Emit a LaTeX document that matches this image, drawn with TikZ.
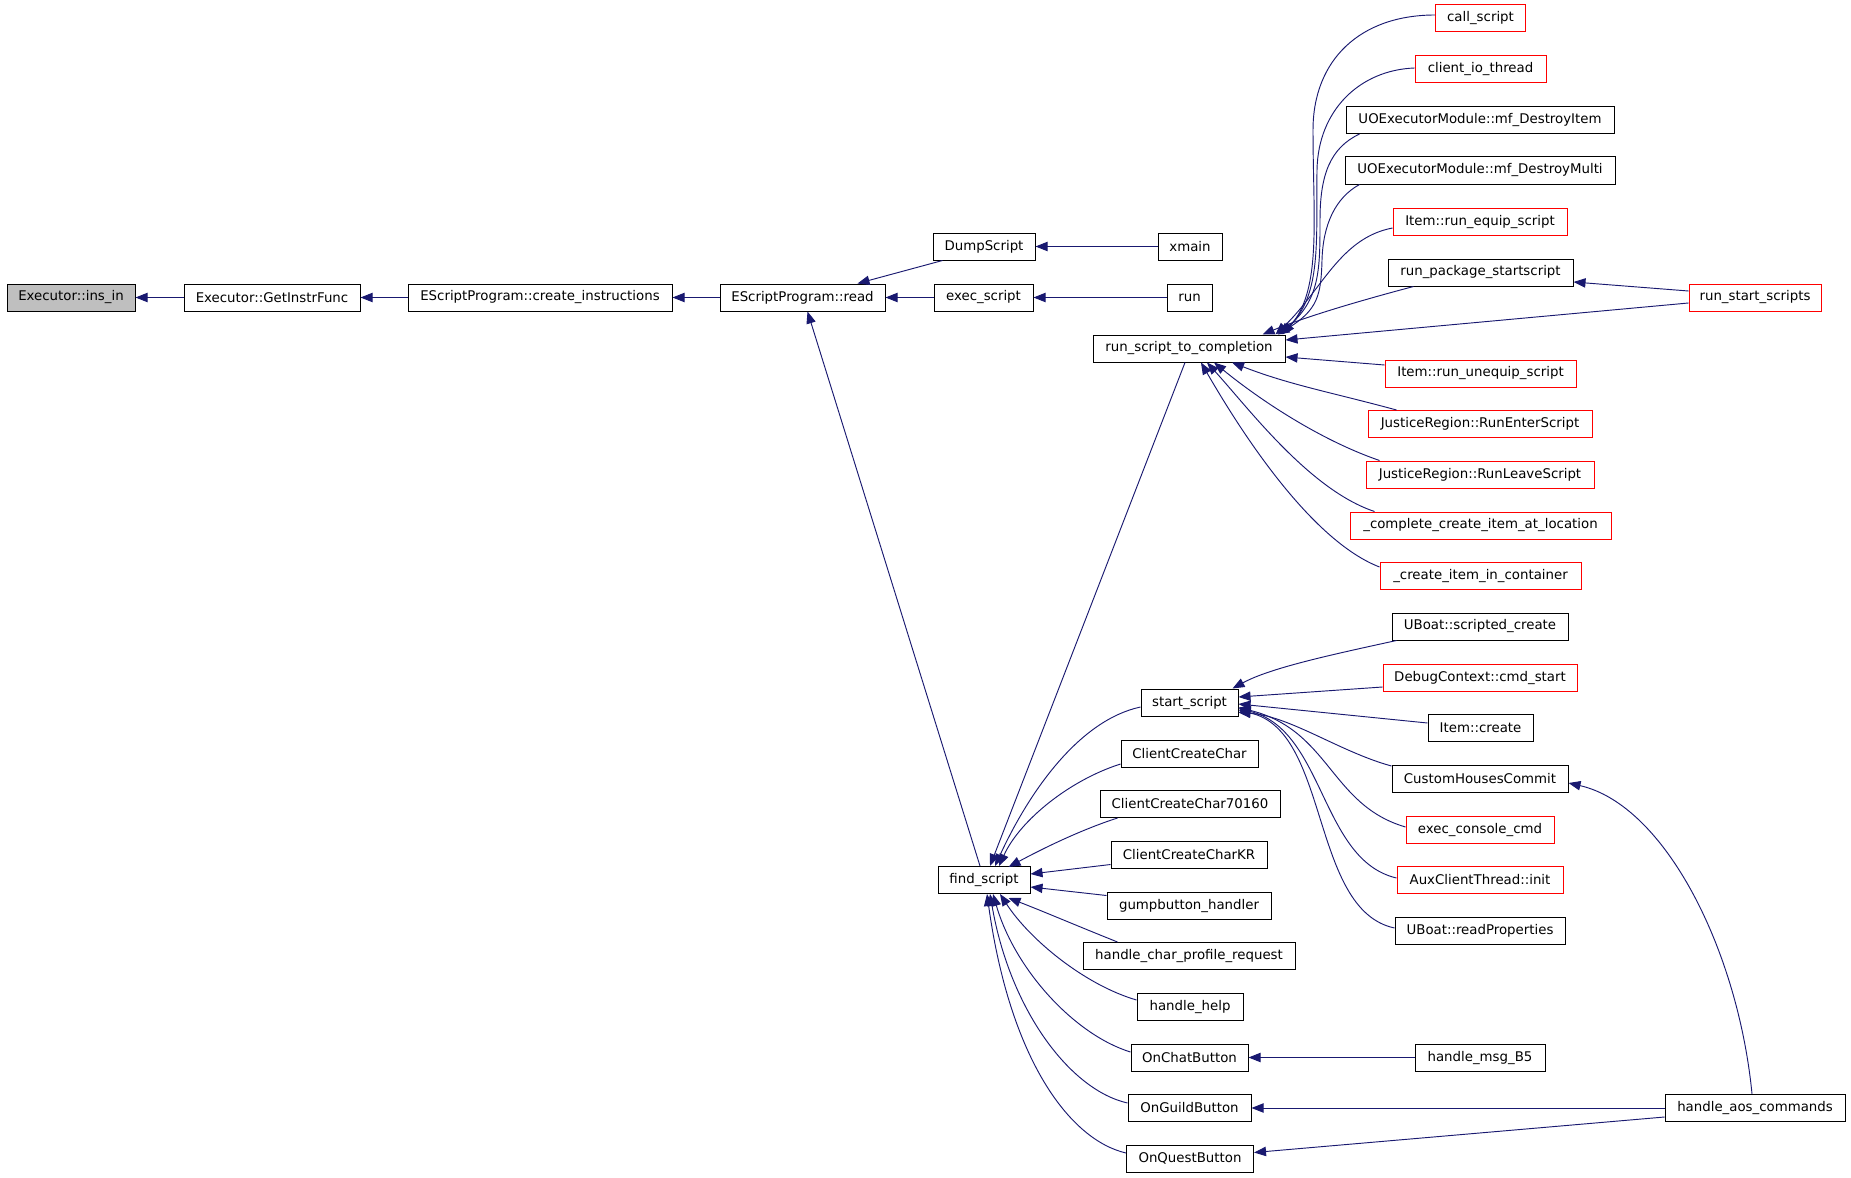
\documentclass[tikz,border=0pt]{standalone}
\usepackage{fontspec}
\setmainfont{DejaVu Sans}
\usetikzlibrary{arrows.meta,calc}
\definecolor{edgecol}{HTML}{191970}
\definecolor{boxred}{HTML}{FF0000}
\definecolor{boxgray}{HTML}{BFBFBF}
\tikzset{
  box/.style={draw=black, line width=0.75pt, fill=white, minimum height=20.25pt, inner sep=0pt,
    font=\fontsize{10}{12}\selectfont},
  redbox/.style={box, draw=boxred},
  graybox/.style={box, fill=boxgray},
  bw/.style={minimum width=#1*0.75pt},
  edge/.style={draw=edgecol, line width=0.7pt, -{Triangle[length=9pt,width=7pt]}}
}
\begin{document}
\begin{tikzpicture}[x=0.75pt,y=-0.75pt]
\useasboundingbox (0,0) rectangle (1851,1177);
\fill[white] (0,0) rectangle (1851,1177);
% nodes
\node[graybox,bw=128] (ins) at (71,297.5) {Executor::ins\_in};
\node[box,bw=176] (gif) at (272,297.5) {Executor::GetInstrFunc};
\node[box,bw=264] (ci) at (540,297.5) {EScriptProgram::create\_instructions};
\node[box,bw=165] (read) at (802.5,297.5) {EScriptProgram::read};
\node[box,bw=102] (dump) at (984,246.5) {DumpScript};
\node[box,bw=99] (exec) at (983.5,297.5) {exec\_script};
\node[box,bw=64] (xmain) at (1190,246.5) {xmain};
\node[box,bw=45] (run) at (1189.5,297.5) {run};
\node[box,bw=192] (rstc) at (1189,348.5) {run\_script\_to\_completion};
\node[redbox,bw=90] (call) at (1480.5,18.5) {call\_script};
\node[redbox,bw=131] (cio) at (1480.5,69.5) {client\_io\_thread};
\node[box,bw=268] (mfdi) at (1480,120) {UOExecutorModule::mf\_DestroyItem};
\node[box,bw=270] (mfdm) at (1480,170.5) {UOExecutorModule::mf\_DestroyMulti};
\node[redbox,bw=174] (req) at (1480,222) {Item::run\_equip\_script};
\node[box,bw=185] (rps) at (1480.5,272.5) {run\_package\_startscript};
\node[redbox,bw=132] (rss) at (1755,297.5) {run\_start\_scripts};
\node[redbox,bw=191] (rue) at (1480.5,373.5) {Item::run\_unequip\_script};
\node[redbox,bw=224] (jre) at (1480,424) {JusticeRegion::RunEnterScript};
\node[redbox,bw=228] (jrl) at (1480,474.5) {JusticeRegion::RunLeaveScript};
\node[redbox,bw=261] (ccl) at (1480.5,525.5) {\_complete\_create\_item\_at\_location};
\node[redbox,bw=201] (cic) at (1480.5,576) {\_create\_item\_in\_container};
\node[box,bw=176] (ubsc) at (1480,626.5) {UBoat::scripted\_create};
\node[redbox,bw=194] (dbg) at (1480,677.5) {DebugContext::cmd\_start};
\node[box,bw=97] (ss) at (1189.5,702.5) {start\_script};
\node[box,bw=105] (icr) at (1480.5,728) {Item::create};
\node[box,bw=137] (ccc) at (1189.5,753.5) {ClientCreateChar};
\node[box,bw=176] (chc) at (1480,778.5) {CustomHousesCommit};
\node[box,bw=180] (ccc7) at (1190,804) {ClientCreateChar70160};
\node[redbox,bw=148] (ecc) at (1480,829.5) {exec\_console\_cmd};
\node[box,bw=156] (ccckr) at (1189,854.5) {ClientCreateCharKR};
\node[redbox,bw=166] (aux) at (1480,880) {AuxClientThread::init};
\node[box,bw=92] (fs) at (984,880) {find\_script};
\node[box,bw=164] (gbh) at (1189,905.5) {gumpbutton\_handler};
\node[box,bw=170] (ubrp) at (1480,930.5) {UBoat::readProperties};
\node[box,bw=212] (hcpr) at (1189,956) {handle\_char\_profile\_request};
\node[box,bw=106] (hh) at (1190,1007) {handle\_help};
\node[box,bw=117] (ocb) at (1189.5,1057.5) {OnChatButton};
\node[box,bw=130] (hmb) at (1480,1057.5) {handle\_msg\_B5};
\node[box,bw=123] (ogb) at (1189.5,1108) {OnGuildButton};
\node[box,bw=180] (hac) at (1755,1108) {handle\_aos\_commands};
\node[box,bw=127] (oqb) at (1190,1158.5) {OnQuestButton};
% left chain
\draw[edge] (gif.west) -- (ins.east);
\draw[edge] (ci.west) -- (gif.east);
\draw[edge] (read.west) -- (ci.east);
\draw[edge] (exec.west) -- (read.east);
\draw[edge] ($(dump.south west)+(10,0)$) -- ($(read.north)+(55,0)$);
\draw[edge] (xmain.west) -- (dump.east);
\draw[edge] (run.west) -- (exec.east);
\draw[edge] ($(fs.north)+(-4,0)$) -- ($(read.south)+(5,0)$);
\draw[edge] ($(rstc.south)+(-4,0)$) -- ($(fs.north)+(6,0)$);
% callers of find_script
\draw[edge] ($(ss.west)+(0,4.5)$) .. controls (1080,720) and (1030,790) .. ($(fs.north)+(11,0)$);
\draw[edge] ($(ccc.west)+(0,10.5)$) .. controls (1070,780) and (1020,820) .. ($(fs.north)+(15,0)$);
\draw[edge] ($(ccc7.south west)+(18,0)$) .. controls (1080,830) and (1040,850) .. ($(fs.north east)+(-22,1)$);
\draw[edge] ($(ccckr.west)+(0,10)$) -- ($(fs.east)+(0,-6)$);
\draw[edge] ($(gbh.west)+(0,-10)$) -- ($(fs.east)+(0,7)$);
\draw[edge] ($(hcpr.north west)+(35,0)$) .. controls (1075,925) and (1040,910) .. ($(fs.south east)+(-22,4)$);
\draw[edge] ($(hh.west)+(0,-7)$) .. controls (1085,985) and (1030,940) .. ($(fs.south)+(16,0)$);
\draw[edge] ($(ocb.west)+(0,-5.5)$) .. controls (1075,1035) and (1015,970) .. ($(fs.south)+(9,0)$);
\draw[edge] ($(ogb.west)+(0,-5)$) .. controls (1070,1090) and (1010,1010) .. ($(fs.south)+(6,0)$);
\draw[edge] ($(oqb.west)+(0,-5.5)$) .. controls (1070,1140) and (1010,1060) .. ($(fs.south)+(3,0)$);
% callers of run_script_to_completion
\draw[edge] ($(call.west)+(0,-3.5)$) .. controls (1360,15) and (1313,60) .. (1313,130) .. controls (1313,220) and (1322,290) .. ($(rstc.north east)+(-3,0)$);
\draw[edge] ($(cio.west)+(0,-1.5)$) .. controls (1360,70) and (1318,110) .. (1317,170) .. controls (1316,240) and (1322,295) .. ($(rstc.north east)+(-5,0)$);
\draw[edge] ($(mfdi.south west)+(14,0)$) .. controls (1330,148) and (1320,175) .. (1320,220) .. controls (1320,270) and (1320,300) .. ($(rstc.north east)+(-7,0)$);
\draw[edge] ($(mfdm.south west)+(15,0)$) .. controls (1335,198) and (1323,225) .. (1322,260) .. controls (1321,295) and (1318,310) .. ($(rstc.north east)+(-8,0)$);
\draw[edge] ($(req.west)+(0,6)$) .. controls (1340,238) and (1322,290) .. ($(rstc.north east)+(-10,0)$);
\draw[edge] ($(rps.south west)+(26,0)$) .. controls (1370,298) and (1310,315) .. ($(rstc.north east)+(-23,0)$);
\draw[edge] ($(rss.west)+(0,5.5)$) -- ($(rstc.east)+(0,-8.5)$);
\draw[edge] ($(rss.west)+(0,-6.5)$) -- ($(rps.east)+(0,9.5)$);
\draw[edge] ($(rue.west)+(0,-8.5)$) -- ($(rstc.east)+(0,8.5)$);
\draw[edge] ($(jre.north west)+(29,0)$) .. controls (1330,392) and (1290,385) .. ($(rstc.south)+(43,0)$);
\draw[edge] ($(jrl.north west)+(14,0)$) .. controls (1320,440) and (1260,400) .. ($(rstc.south)+(25,0)$);
\draw[edge] ($(ccl.north west)+(25,0)$) .. controls (1310,490) and (1250,410) .. ($(rstc.south)+(18,0)$);
\draw[edge] ($(cic.west)+(0,-9)$) .. controls (1310,540) and (1240,430) .. ($(rstc.south)+(12,0)$);
% callers of start_script
\draw[edge] ($(ubsc.south west)+(5,0)$) .. controls (1330,655) and (1270,668) .. ($(ss.north east)+(-6,0)$);
\draw[edge] ($(dbg.west)+(0,9.5)$) -- ($(ss.east)+(0,-5.5)$);
\draw[edge] ($(icr.west)+(0,-5)$) -- ($(ss.east)+(0,1.5)$);
\draw[edge] ($(chc.west)+(0,-12.5)$) .. controls (1340,752) and (1290,716) .. ($(ss.east)+(0,10)$);
\draw[edge] ($(ecc.west)+(0,-2.5)$) .. controls (1330,805) and (1330,730) .. ($(ss.east)+(0,5)$);
\draw[edge] ($(aux.west)+(0,-2)$) .. controls (1320,860) and (1325,730) .. ($(ss.east)+(0,6)$);
\draw[edge] ($(ubrp.west)+(0,-2.5)$) .. controls (1310,910) and (1330,730) .. ($(ss.east)+(0,8)$);
% others
\draw[edge] ($(hac.north)+(-3,0)$) .. controls (1738,950) and (1665,805) .. ($(chc.east)+(0,4.5)$);
\draw[edge] (hmb.west) -- (ocb.east);
\draw[edge] (hac.west) -- (ogb.east);
\draw[edge] ($(hac.west)+(0,9)$) -- ($(oqb.east)+(0,-6)$);
\end{tikzpicture}
\end{document}
